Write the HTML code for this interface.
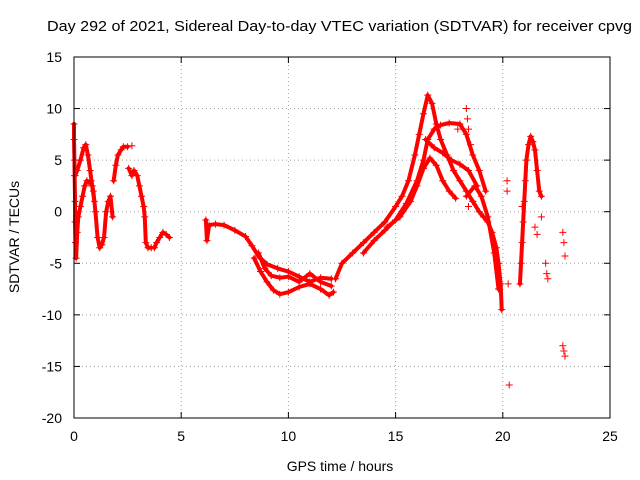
<!DOCTYPE html>
<html><head><meta charset="utf-8"><style>
body{margin:0;background:#fff}
svg{display:block;font-family:"Liberation Sans",sans-serif}
</style></head><body>
<svg id="chart" width="640" height="480" viewBox="0 0 640 480">
<text x="47" y="31" font-size="15" textLength="585" lengthAdjust="spacingAndGlyphs">Day 292 of 2021, Sidereal Day-to-day VTEC variation (SDTVAR) for receiver cpvg</text>
<text x="340" y="471" font-size="14" text-anchor="middle">GPS time / hours</text>
<text x="0" y="0" font-size="14" text-anchor="middle" transform="translate(19,237) rotate(-90)">SDTVAR / TECUs</text>
<g id="grid"></g><g id="ticks"></g><g id="bands"></g><g id="marks"></g>
<rect x="74" y="57" width="536" height="361" fill="none" stroke="#000" stroke-width="1"/>
</svg>
<script>
const xTicks=[0,5,10,15,20,25];
const yTicks=[15,10,5,0,-5,-10,-15,-20];
const trackA=[[0,8.5],[0,7],[0.02,5],[0.03,3.5],[0.05,1],[0.05,-1],[0.07,-3],[0.1,-4.5],[0.15,-2],[0.2,-0.5],[0.3,0.5],[0.4,1.5],[0.5,2.5],[0.6,3],[0.7,2.8],[0.8,3],[0.9,2],[1.0,0],[1.1,-2.5],[1.2,-3.5],[1.3,-3.2],[1.4,-2.5],[1.5,0],[1.6,1],[1.7,1.5],[1.8,-0.5]];
const trackA2=[[0.05,3.5],[0.15,4],[0.3,5],[0.45,6.2],[0.55,6.5],[0.65,5.5],[0.75,4],[0.85,2.5],[0.95,1]];
const trackA3=[[1.85,3],[1.95,4.5],[2.05,5.5],[2.2,6],[2.3,6.3],[2.5,6.3]];
const trackA4=[[2.55,4.2],[2.7,3.5],[2.8,4],[2.95,3.5],[3.05,2.5],[3.15,1.5],[3.25,0.5],[3.3,-0.5],[3.35,-3],[3.45,-3.5],[3.6,-3.5]];
const trackA5=[[3.75,-3.5],[3.85,-3],[4.0,-2.5],[4.15,-2],[4.3,-2.2],[4.45,-2.5]];
const trackB1=[[6.15,-0.8],[6.2,-2.8],[6.3,-1.3],[6.6,-1.2],[7,-1.3],[7.5,-1.8],[8,-2.4],[8.3,-3.3],[8.6,-4.3],[9,-5.1],[9.5,-5.5],[10,-5.8],[10.5,-6.3],[11,-6.8],[11.5,-6.4],[12,-6.5]];
const trackB2=[[8.4,-4.5],[8.7,-5.8],[9.0,-6.8],[9.3,-7.6],[9.6,-8],[10,-7.8],[10.5,-7.3],[11,-7],[11.5,-7.5],[11.9,-8.1],[12.1,-7.8]];
const trackB3=[[8.6,-4],[8.9,-5.5],[9.2,-6.2],[9.6,-6.4],[10,-6.3],[10.5,-6.8],[11,-6],[11.5,-6.8],[12,-7.2]];
const trackC1=[[12.2,-6.5],[12.5,-5],[13,-4],[13.5,-3],[14,-2],[14.5,-1],[15,0.5],[15.3,1.5],[15.6,3],[15.9,5.5],[16.1,7.5],[16.3,9.5],[16.5,11.3],[16.7,10.5],[16.9,8.5],[17.1,7],[17.4,5.5],[17.7,4],[18,3],[18.3,2],[18.6,1]];
const trackC2=[[13.5,-4],[14,-2.8],[14.5,-1.8],[15,-0.8],[15.5,0.8],[16,3],[16.3,5],[16.5,7],[16.8,8],[17.1,8.4],[17.5,8.6],[18,8.5],[18.3,7.5],[18.6,5.5],[18.9,4],[19.2,2]];
const trackC3=[[14.6,-1.5],[15.2,-0.5],[15.7,1],[16,2.5],[16.3,4.2],[16.6,5.2],[16.9,4.5],[17.2,3],[17.5,2],[17.8,1.3]];
const trackC4=[[16.4,7],[16.8,6.2],[17.2,5.7],[17.6,5],[18,4.6],[18.4,4],[18.8,2.5]];
const trackC5=[[18.6,1],[18.9,0],[19.1,-0.5],[19.3,-1],[19.5,-2],[19.7,-3.5],[19.8,-5],[19.9,-7],[19.95,-9.5]];
const trackC6=[[18.3,1.5],[18.7,2.5],[19,1.5],[19.3,-0.5],[19.6,-4],[19.8,-7.5]];
const trackD=[[20.8,-7],[20.85,-5],[20.9,-3],[20.95,-1],[21.0,1],[21.05,3],[21.1,5],[21.2,6.5],[21.3,7.3],[21.4,6.8],[21.5,6],[21.6,4],[21.7,2],[21.8,1.5]];
const scatter=[[18.3,10],[18.35,9],[18.4,8],[18.5,6.5],[20.2,3],[20.2,2],[20.3,-16.8],[20.25,-7],[21.5,-1.5],[21.6,-2.2],[22.0,-5],[22.05,-6],[22.1,-6.5],[22.8,-2],[22.85,-3],[22.9,-4.3],[22.8,-13],[22.85,-13.5],[22.9,-14],[21.8,-0.5],[20.9,0.5],[2.7,6.4],[17.9,8],[18.4,0.5]];
const tracks=[trackA,trackA2,trackA3,trackA4,trackA5,trackB1,trackB2,trackB3,trackC1,trackC2,trackC3,trackC4,trackC5,trackC6,trackD];
const NS="http://www.w3.org/2000/svg";
const X=v=>74+v*536/25, Y=v=>211.7-v*361/35;
const grid=document.getElementById('grid'),ticks=document.getElementById('ticks');
function mk(t,a,p){const e=document.createElementNS(NS,t);for(const k in a)e.setAttribute(k,a[k]);p.appendChild(e);return e;}
xTicks.forEach(t=>{
 if(t>0&&t<25){const g=mk('line',{x1:X(t),x2:X(t),y1:57,y2:418,stroke:'#a0a0a0','stroke-dasharray':'1,3'},grid);
 
 }
 const l=mk('text',{x:X(t),y:441,'font-size':14,'text-anchor':'middle'},ticks);l.textContent=t;
 
 
 mk('line',{x1:X(t),x2:X(t),y1:418,y2:412,stroke:'#000'},ticks);
 mk('line',{x1:X(t),x2:X(t),y1:57,y2:63,stroke:'#000'},ticks);
});
yTicks.forEach(t=>{
 if(t<15&&t>-20){const g=mk('line',{x1:74,x2:610,y1:Y(t),y2:Y(t),stroke:'#a0a0a0','stroke-dasharray':'1,3'},grid);
 
 }
 const l=mk('text',{x:62,y:Y(t)+5,'font-size':14,'text-anchor':'end'},ticks);l.textContent=t;
 
 
 mk('line',{x1:74,x2:80,y1:Y(t),y2:Y(t),stroke:'#000'},ticks);
 mk('line',{x1:604,x2:610,y1:Y(t),y2:Y(t),stroke:'#000'},ticks);
});
const bands=document.getElementById('bands'),marks=document.getElementById('marks');
tracks.forEach(tr=>{
 const p=mk('polyline',{points:tr.map(d=>X(d[0])+','+Y(d[1])).join(' '),fill:'none',stroke:'#f00','stroke-width':4,'stroke-linejoin':'round','stroke-linecap':'round'},bands);
 
 
});
function plus(x,y){
 const g=mk('path',{d:`M${x-3.5},${y}h7M${x},${y-3.5}v7`,stroke:'#f00','stroke-width':1,fill:'none'},marks);
 
 
}
tracks.forEach(tr=>tr.forEach(d=>plus(X(d[0]),Y(d[1]))));
scatter.forEach(d=>plus(X(d[0]),Y(d[1])));
</script>
</body></html>
